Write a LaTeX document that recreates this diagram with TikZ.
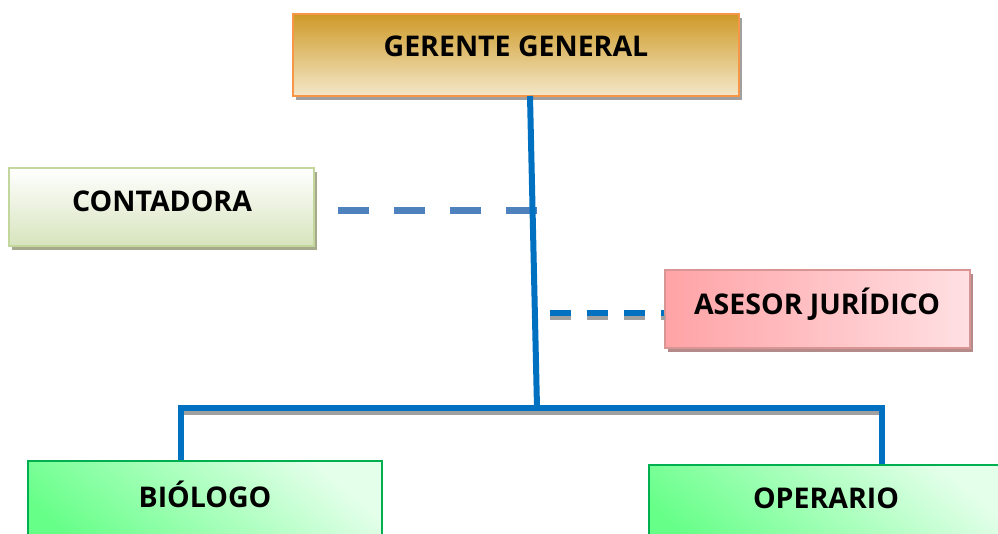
\documentclass[tikz,border=0pt]{standalone}
\usepackage{fontspec}
\setmainfont{Open Sans}
\usetikzlibrary{shadows,calc}
\definecolor{gold}{HTML}{CE9A28}
\definecolor{cream}{HTML}{F4E8C9}
\definecolor{orangeb}{HTML}{F79646}
\definecolor{olivelt}{HTML}{D7E4BD}
\definecolor{oliveb}{HTML}{C3D69B}
\definecolor{oliveshadow}{HTML}{A6A98C}
\definecolor{pinkl}{HTML}{FFA3A6}
\definecolor{pinkr}{HTML}{FFE0E3}
\definecolor{pinkb}{HTML}{D99594}
\definecolor{pinkshadow}{HTML}{B58A8A}
\definecolor{greendk}{HTML}{66FF88}
\definecolor{greenlt}{HTML}{E4FFEA}
\definecolor{greenb}{HTML}{00B050}
\definecolor{mainblue}{HTML}{0070C0}
\definecolor{dashblue}{HTML}{4F81BD}
\definecolor{shadowgrey}{HTML}{A0A0A0}
\tikzset{
  lbl/.style={font=\bfseries\fontsize{28.5}{32}\selectfont},
  box/.style={draw, line width=1.5pt, inner sep=0pt},
  shad/.style={drop shadow={shadow xshift=3pt, shadow yshift=-4pt, fill=#1, opacity=1}},
  gerbox/.style={box, draw=orangeb, top color=gold, bottom color=cream, minimum width=446pt, minimum height=82pt, shad=shadowgrey},
  conbox/.style={box, draw=oliveb, top color=white, bottom color=olivelt, minimum width=305pt, minimum height=78pt, shad=oliveshadow},
  asebox/.style={box, draw=pinkb, left color=pinkl, right color=pinkr, minimum width=305pt, minimum height=78pt, shad=pinkshadow},
  grnbox/.style={box, draw=greenb, top color=greenlt, bottom color=greendk, shading angle=-40, minimum height=100pt},
  mainline/.style={draw=mainblue, line width=6pt},
  lineshadow/.style={draw=shadowgrey, line width=6pt},
  dashc/.style={draw=dashblue, line width=7pt, dash pattern=on 31pt off 25pt},
  dasha/.style={draw=mainblue, line width=6pt, dash pattern=on 21pt off 16pt, dash phase=20pt},
  dashas/.style={draw=shadowgrey, line width=6pt, dash pattern=on 21pt off 16pt, dash phase=20pt},
}
\begin{document}
\begin{tikzpicture}[x=1pt,y=-1pt]
\useasboundingbox (0,0) rectangle (998,534);
\fill[white] (0,0) rectangle (998,534);
% nodes
\node[gerbox] (ger) at (516,55) {};
\node[lbl] (gert) at (516,46) {GERENTE GENERAL};
\node[conbox] (con) at (161.5,207) {};
\node[lbl] (cont) at (162,201) {CONTADORA};
\node[asebox] (ase) at (817.5,309) {};
\node[lbl] (aset) at (817,304) {ASESOR JURÍDICO};
% connector coordinates
\coordinate (top) at (530,96);
\coordinate (hub) at (537,408);
\coordinate (bl) at (181,408);
\coordinate (br) at (882,408);
\coordinate (cj) at (537,211);
\coordinate (aj) at (533,313);
% dashed connectors
\draw[dashc] (338,211) -- (cj);
\draw[dashas] ($(aj)+(0,4)$) -- (665,317);
\draw[dasha] (aj) -- (ase.west |- aj);
% bottom boxes
\node[grnbox, minimum width=354pt] (bio) at (205,511) {};
\node[lbl] (biot) at (205,494) {BIÓLOGO};
\node[grnbox, minimum width=360pt] (ope) at (829,515) {};
\node[lbl] (opet) at (826,498) {OPERARIO};
% main tree
\draw[lineshadow] (178,412) -- (882,412);
\draw[mainline] (top) -- (hub);
\draw[mainline, line join=miter] (bio.north -| bl) -- (bl) -- (br) -- (ope.north -| br);
\end{tikzpicture}
\end{document}
